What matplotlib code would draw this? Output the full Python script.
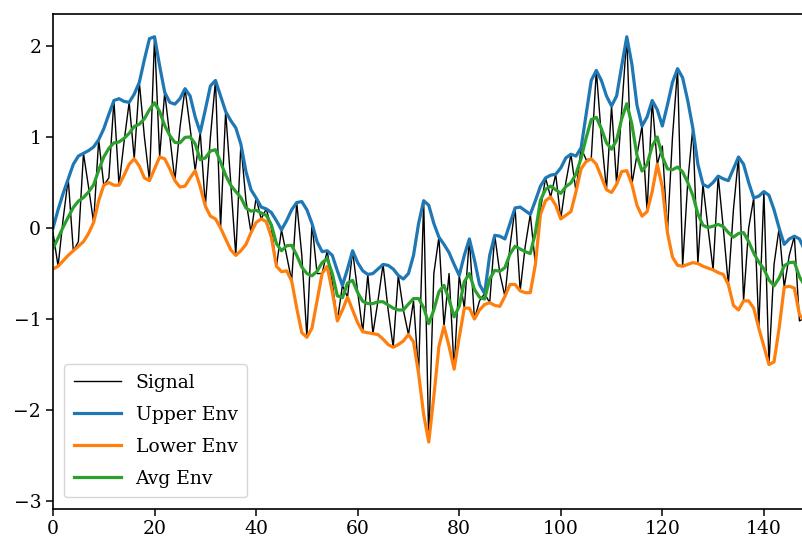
import matplotlib
matplotlib.use("Agg")
import matplotlib.pyplot as plt
import numpy as np

signal = [
    -0.05, -0.42, 0.10, 0.54, -0.25, -0.15, 0.82, 0.45, 0.06, 0.97,
    0.47, 0.55, 1.40, 0.47, 0.95, 1.38, 0.76, 1.60, 1.00, 0.52,
    2.10, 0.78, 1.49, 1.00, 0.52, 1.10, 1.53, 1.10, 0.63, 1.05,
    0.24, 1.00, 1.62, 0.00, 1.28, 0.50, -0.30, 0.92, 0.30, -0.05,
    0.33, 0.10, 0.21, 0.00, -0.42, -0.02, -0.30, -0.58, 0.28, -0.30,
    -1.20, 0.05, -0.50, -0.50, -0.25, -0.60, -1.02, -0.63, -0.76, -0.25,
    -0.70, -1.14, -0.51, -1.16, -0.80, -0.40, -0.90, -1.31, -0.52, -0.90,
    -1.17, -0.80, -1.60, 0.30, -2.35, -0.50, -0.10, -1.08, -0.50, -1.55,
    -0.52, -0.88, -0.12, -1.00, -0.80, -0.72, -0.82, -0.08, -0.50, -0.75,
    -0.20, 0.22, -0.69, -0.20, 0.15, -0.40, 0.20, 0.55, 0.34, 0.59,
    0.10, 0.50, 0.81, 0.40, 0.88, 0.75, 0.76, 1.73, 1.00, 0.42,
    1.34, 0.48, 1.30, 2.10, 0.48, 0.80, 1.12, 0.18, 1.40, 0.70,
    0.90, -0.05, 1.00, 1.75, -0.42, 0.50, 1.10, -0.39, 0.48, 0.00,
    -0.46, 0.57, 0.00, -0.62, 0.20, 0.78, -0.80, 0.00, 0.33, -1.10,
    0.40, -1.50, -0.40, 0.00, -0.65, -0.30, -0.09, -1.02, -0.99,
]

upper_env = [
    0.00, 0.20, 0.38, 0.54, 0.70, 0.79, 0.82, 0.85, 0.89, 0.97,
    1.09, 1.25, 1.40, 1.42, 1.39, 1.38, 1.47, 1.60, 1.85, 2.08,
    2.10, 1.78, 1.49, 1.38, 1.36, 1.42, 1.53, 1.45, 1.22, 1.05,
    1.30, 1.56, 1.62, 1.45, 1.28, 1.18, 1.10, 0.92, 0.62, 0.42,
    0.33, 0.23, 0.21, 0.17, 0.08, -0.02, 0.08, 0.20, 0.28, 0.29,
    0.20, 0.05, -0.15, -0.26, -0.25, -0.30, -0.47, -0.63, -0.45, -0.25,
    -0.38, -0.47, -0.51, -0.50, -0.45, -0.40, -0.41, -0.45, -0.52, -0.56,
    -0.50, -0.30, 0.05, 0.30, 0.25, 0.05, -0.10, -0.18, -0.27, -0.40,
    -0.52, -0.30, -0.12, -0.35, -0.62, -0.72, -0.30, -0.08, -0.09, -0.12,
    0.05, 0.22, 0.23, 0.19, 0.15, 0.30, 0.46, 0.55, 0.58, 0.59,
    0.66, 0.77, 0.81, 0.79, 0.88, 1.25, 1.62, 1.73, 1.62, 1.45,
    1.34, 1.45, 1.78, 2.10, 1.80, 1.35, 1.12, 1.22, 1.40, 1.30,
    1.12, 1.35, 1.60, 1.75, 1.65, 1.40, 1.10, 0.70, 0.48, 0.45,
    0.50, 0.57, 0.54, 0.52, 0.65, 0.78, 0.70, 0.50, 0.33, 0.35,
    0.40, 0.36, 0.20, 0.00, -0.18, -0.12, -0.09, -0.12, -0.24,
]

lower_env = [
    -0.45, -0.42, -0.36, -0.30, -0.25, -0.20, -0.15, -0.06, 0.06, 0.30,
    0.47, 0.50, 0.47, 0.47, 0.58, 0.70, 0.76, 0.68, 0.55, 0.52,
    0.65, 0.78, 0.76, 0.65, 0.52, 0.45, 0.46, 0.55, 0.63, 0.45,
    0.24, 0.13, 0.10, 0.00, -0.12, -0.24, -0.30, -0.25, -0.18, -0.05,
    0.06, 0.10, 0.07, -0.10, -0.42, -0.48, -0.47, -0.58, -0.88, -1.15,
    -1.20, -1.10, -0.80, -0.50, -0.42, -0.70, -1.02, -0.90, -0.76, -0.90,
    -1.04, -1.14, -1.15, -1.16, -1.17, -1.22, -1.28, -1.31, -1.28, -1.24,
    -1.17, -1.25, -1.60, -2.05, -2.35, -1.85, -1.30, -1.08, -1.30, -1.55,
    -1.20, -0.88, -0.88, -1.00, -0.90, -0.84, -0.82, -0.85, -0.86, -0.75,
    -0.62, -0.62, -0.69, -0.71, -0.71, -0.40, 0.15, 0.30, 0.34, 0.25,
    0.10, 0.14, 0.18, 0.40, 0.65, 0.73, 0.76, 0.70, 0.56, 0.42,
    0.39, 0.48, 0.62, 0.63, 0.48, 0.25, 0.13, 0.18, 0.40, 0.70,
    0.45, -0.05, -0.32, -0.41, -0.42, -0.40, -0.38, -0.39, -0.42, -0.44,
    -0.46, -0.49, -0.51, -0.62, -0.85, -0.90, -0.80, -0.80, -0.88, -1.10,
    -1.30, -1.50, -1.47, -1.10, -0.65, -0.64, -0.66, -0.95, -1.02,
]

x_ticks = [0, 20, 40, 60, 80, 100, 120, 140]
y_ticks = [-3, -2, -1, 0, 1, 2]

x = np.arange(len(signal))
avg_env = (np.array(upper_env) + np.array(lower_env)) / 2.0

plt.rcParams['font.family'] = ['DejaVu Serif']
plt.rcParams['font.size'] = 13.5

fig = plt.figure(figsize=(8.03, 5.42), dpi=100)
ax = fig.add_axes([53 / 803, 1 - 508.5 / 542, 751 / 803, (508.5 - 14) / 542])

ax.plot(x, signal, color='black', lw=1.0, label='Signal')
ax.plot(x, upper_env, color='#1f77b4', lw=2.3, label='Upper Env')
ax.plot(x, lower_env, color='#ff7f0e', lw=2.3, label='Lower Env')
ax.plot(x, avg_env, color='#2ca02c', lw=2.3, label='Avg Env')

ax.set_xlim(0, 147.9)
ax.set_ylim(-3.08, 2.35)
ax.set_xticks(x_ticks)
ax.set_yticks(y_ticks)
ax.tick_params(length=5, width=1.1)
for s in ax.spines.values():
    s.set_linewidth(1.2)
ax.spines['right'].set_visible(False)

ax.legend(loc='lower left', handlelength=2.5, handletextpad=0.8,
          labelspacing=0.75, borderpad=0.5, borderaxespad=0.6)

fig.savefig('out.png', dpi=100)
